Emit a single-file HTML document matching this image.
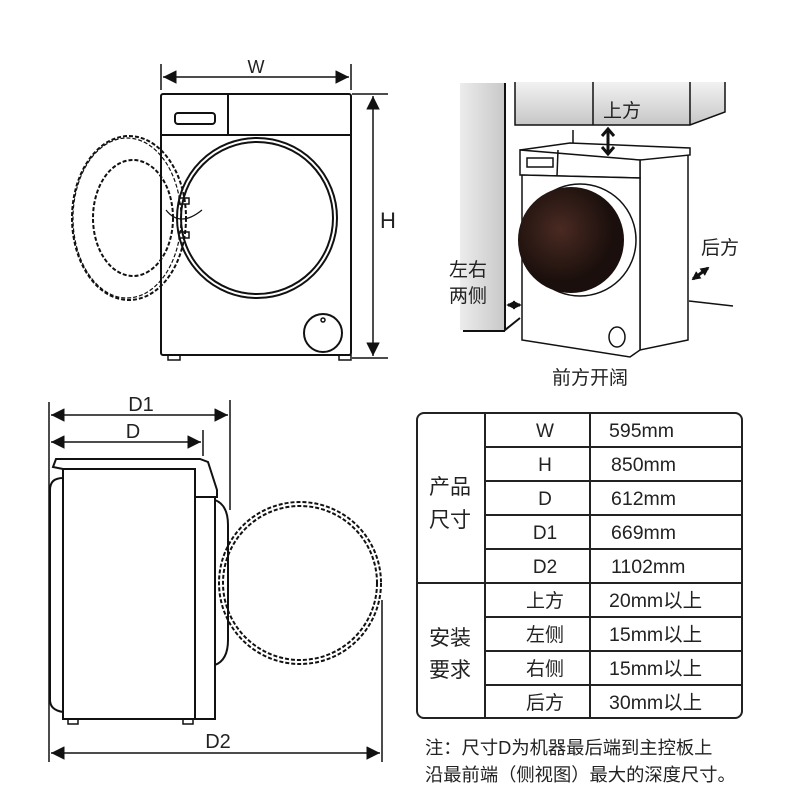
<!DOCTYPE html>
<html><head><meta charset="utf-8"><style>
body{margin:0;background:#fff;width:800px;height:800px;overflow:hidden}
svg{display:block}
text{font-family:"Liberation Sans","Noto Sans CJK SC",sans-serif;fill:#222}
</style></head><body>
<svg width="800" height="800" viewBox="0 0 800 800" xmlns="http://www.w3.org/2000/svg">
<defs>
<marker id="a" viewBox="0 0 10 10" refX="10" refY="5" markerWidth="9" markerHeight="9" orient="auto-start-reverse"><path d="M0,0L10,5L0,10z" fill="#111"/></marker>
<marker id="b" viewBox="0 0 10 10" refX="8" refY="5" markerWidth="3" markerHeight="3" orient="auto-start-reverse"><path d="M0,0L10,5L0,10z" fill="#111"/></marker>
<linearGradient id="g" x1="0" x2="1"><stop offset="0" stop-color="#ececec"/><stop offset="1" stop-color="#c8c8c8"/></linearGradient>
<linearGradient id="g2" x1="0" x2="0" y1="0" y2="1"><stop offset="0" stop-color="#f2f2f2"/><stop offset="1" stop-color="#c6c6c6"/></linearGradient>
<radialGradient id="dk" cx="0.4" cy="0.4"><stop offset="0" stop-color="#4a2a22"/><stop offset="1" stop-color="#1a0f0c"/></radialGradient>
</defs>
<g stroke="#111" fill="none" stroke-width="2">
<line x1="161" y1="64" x2="161" y2="90" stroke-width="1.5"/>
<line x1="351" y1="64" x2="351" y2="90" stroke-width="1.5"/>
<line x1="163" y1="77" x2="349" y2="77" stroke-width="1.5" marker-start="url(#a)" marker-end="url(#a)"/>
<rect x="161" y="94" width="190" height="261" rx="2"/>
<line x1="161" y1="135" x2="351" y2="135"/>
<line x1="228" y1="94" x2="228" y2="135"/>
<rect x="175" y="113" width="40" height="11" rx="3"/>
<circle cx="257" cy="218" r="80"/>
<circle cx="257" cy="218" r="76"/>
<circle cx="323" cy="333" r="19"/>
<circle cx="323" cy="320" r="2" stroke-width="1.5"/>
<rect x="168" y="355" width="12" height="5" stroke-width="1.5"/>
<rect x="339" y="355" width="12" height="5" stroke-width="1.5"/>
<ellipse cx="129" cy="218" rx="57" ry="82" stroke-dasharray="4,2"/>
<ellipse cx="127" cy="218" rx="54" ry="80" stroke-dasharray="4,2" stroke-width="1.2"/>
<ellipse cx="133" cy="218" rx="40" ry="58" stroke-dasharray="4,2"/>
<rect x="179" y="198" width="10" height="6" stroke-width="1.5"/>
<rect x="179" y="232" width="10" height="6" stroke-width="1.5"/>
<path d="M166,210 Q180,228 202,210" stroke-width="1.2"/>
<line x1="352" y1="94" x2="388" y2="94" stroke-width="1.5"/>
<line x1="352" y1="358" x2="388" y2="358" stroke-width="1.5"/>
<line x1="373" y1="96" x2="373" y2="356" stroke-width="1.5" marker-start="url(#a)" marker-end="url(#a)"/>
<line x1="49" y1="402" x2="49" y2="762" stroke-width="1.5"/>
<line x1="230" y1="400" x2="230" y2="510" stroke-width="1.5"/>
<line x1="203" y1="430" x2="203" y2="456" stroke-width="1.5"/>
<line x1="382" y1="600" x2="382" y2="762" stroke-width="1.5"/>
<line x1="51" y1="415" x2="228" y2="415" stroke-width="1.5" marker-start="url(#a)" marker-end="url(#a)"/>
<line x1="51" y1="442" x2="201" y2="442" stroke-width="1.5" marker-start="url(#a)" marker-end="url(#a)"/>
<line x1="51" y1="753" x2="380" y2="753" stroke-width="1.5" marker-start="url(#a)" marker-end="url(#a)"/>
<path d="M56,459 H200 L208,462 L217,490 V497 H195 V469 H63 L53,467 Z"/>
<rect x="63" y="469" width="132" height="250"/>
<path d="M63,478 Q50,478 50,490 V700 Q50,710 63,712"/>
<path d="M195,497 H215 V719 H195"/>
<path d="M215,500 Q228,505 228,525 V640 Q228,660 215,665"/>
<rect x="68" y="719" width="10" height="5" stroke-width="1.5"/>
<rect x="183" y="719" width="10" height="5" stroke-width="1.5"/>
<circle cx="300" cy="583" r="81" stroke-dasharray="4,2"/>
<circle cx="300" cy="583" r="77" stroke-dasharray="4,2"/>
</g>
<text x="256" y="73" font-size="18" text-anchor="middle">W</text>
<text x="388" y="228" font-size="22" text-anchor="middle">H</text>
<text x="141" y="411" font-size="20" text-anchor="middle">D1</text>
<text x="133" y="438" font-size="20" text-anchor="middle">D</text>
<text x="218" y="748" font-size="20" text-anchor="middle">D2</text>
<rect x="460" y="83" width="45" height="247" fill="url(#g)"/>
<path d="M505,83 V330 L520,318" stroke="#111" stroke-width="2" fill="none"/>
<line x1="463" y1="331" x2="505" y2="331" stroke="#111" stroke-width="2"/>
<path d="M515,82 V125 H690 L725,112 V82" fill="url(#g2)" stroke="#111" stroke-width="1.5"/>
<line x1="593" y1="82" x2="593" y2="125" stroke="#111" stroke-width="1.5"/>
<line x1="690" y1="82" x2="690" y2="125" stroke="#111" stroke-width="1.5"/>
<g stroke="#111" stroke-width="1.5" fill="#fff">
<path d="M520,150 L570,143 L690,148 L690,155 L640,160 L640,350 L688,340 L688,155"/>
<path d="M520,150 L520,175 L640,178 L640,160 Z"/>
<path d="M522,175 L522,340 L630,357 L640,350 L640,178 Z"/>
<line x1="558" y1="150" x2="557" y2="176"/>
<rect x="527" y="158" width="26" height="9"/>
</g>
<circle cx="580" cy="240" r="56" fill="#fff" stroke="#111" stroke-width="1.5"/>
<circle cx="571" cy="240" r="53" fill="url(#dk)"/>
<ellipse cx="617" cy="337" rx="8" ry="10" fill="none" stroke="#111" stroke-width="1.5"/>
<line x1="573" y1="130" x2="573" y2="143" stroke="#111" stroke-width="1.5"/>
<line x1="689" y1="301" x2="733" y2="306" stroke="#111" stroke-width="1.5"/>
<g stroke="#111" stroke-width="3">
<line x1="608" y1="131" x2="608" y2="152"/><path d="M602,136 L608,129 L614,136 M602,147 L608,154 L614,147" fill="none"/>
<line x1="508" y1="305" x2="520" y2="305" marker-start="url(#b)" marker-end="url(#b)"/>
<line x1="693" y1="279" x2="708" y2="268" marker-start="url(#b)" marker-end="url(#b)"/>
</g>
<text x="622" y="117" font-size="19" text-anchor="middle">上方</text>
<text x="720" y="254" font-size="19" text-anchor="middle">后方</text>
<text x="468" y="276" font-size="19" text-anchor="middle">左右</text>
<text x="468" y="302" font-size="19" text-anchor="middle">两侧</text>
<text x="590" y="384" font-size="19" text-anchor="middle">前方开阔</text>
<g stroke="#222" stroke-width="2" fill="none">
<rect x="417" y="413" width="325" height="305" rx="7"/>
<line x1="485" y1="413" x2="485" y2="718"/>
<line x1="590" y1="413" x2="590" y2="718"/>
<line x1="485" y1="447" x2="742" y2="447"/>
<line x1="485" y1="481" x2="742" y2="481"/>
<line x1="485" y1="515" x2="742" y2="515"/>
<line x1="485" y1="549" x2="742" y2="549"/>
<line x1="417" y1="583" x2="742" y2="583"/>
<line x1="485" y1="617" x2="742" y2="617"/>
<line x1="485" y1="651" x2="742" y2="651"/>
<line x1="485" y1="685" x2="742" y2="685"/>
</g>
<g font-size="19" text-anchor="middle">
<text x="545" y="437">W</text><text x="545" y="471">H</text><text x="545" y="505">D</text><text x="545" y="539">D1</text><text x="545" y="573">D2</text>
<text x="545" y="607">上方</text><text x="545" y="641">左侧</text><text x="545" y="675">右侧</text><text x="545" y="709">后方</text>
</g>
<g font-size="19.5">
<text x="609" y="437">595mm</text><text x="611" y="471">850mm</text><text x="611" y="505">612mm</text><text x="611" y="539">669mm</text><text x="611" y="573">1102mm</text>
<text x="609" y="607">20mm以上</text><text x="609" y="641">15mm以上</text><text x="609" y="675">15mm以上</text><text x="609" y="709">30mm以上</text>
</g>
<g font-size="21" text-anchor="middle">
<text x="450" y="494">产品</text><text x="450" y="527">尺寸</text>
<text x="450" y="645">安装</text><text x="450" y="677">要求</text>
</g>
<text x="425" y="754" font-size="18.3">注：尺寸D为机器最后端到主控板上</text>
<text x="425" y="781" font-size="18.3">沿最前端（侧视图）最大的深度尺寸。</text>
</svg>
</body></html>
